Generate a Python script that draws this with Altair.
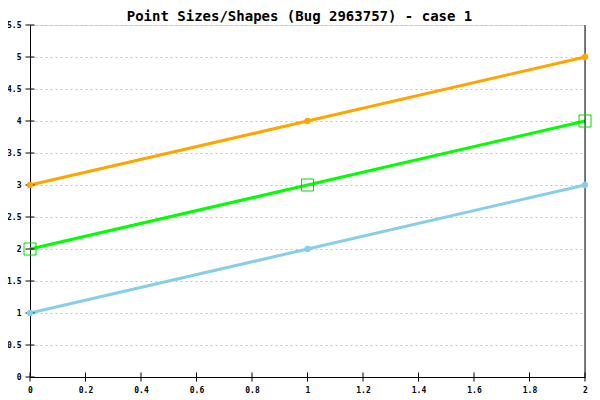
import altair as alt
import pandas as pd

x_vals = [0, 1, 2]
blue_vals = [1, 2, 3]
green_vals = [2, 3, 4]
orange_vals = [3, 4, 5]
y_ticks = [0, 0.5, 1, 1.5, 2, 2.5, 3, 3.5, 4, 4.5, 5, 5.5]
x_ticks = [0, 0.2, 0.4, 0.6, 0.8, 1, 1.2, 1.4, 1.6, 1.8, 2]
title = "Point Sizes/Shapes (Bug 2963757) - case 1"

FONT = "DejaVu Sans Mono"

def series(vals, name):
    return pd.DataFrame({"x": x_vals, "y": vals, "s": name})

blue = series(blue_vals, "blue")
green = series(green_vals, "green")
orange = series(orange_vals, "orange")

xs = alt.Scale(domain=[0, 2], nice=False, zero=False)
ys = alt.Scale(domain=[0, 5.5], nice=False, zero=False)

x_axis = alt.Axis(values=x_ticks, grid=False, ticks=False,
        domainColor="black", domainWidth=1, labelFont=FONT, labelFontSize=8,
        labelFontWeight="bold", labelColor="black", labelPadding=9, title=None,
        labelFlush=False, labelOverlap=False, format="~g")
y_axis = alt.Axis(values=y_ticks, grid=True, gridDash=[2, 3],
        gridColor="#c0c0c0", gridWidth=1, ticks=False, domainColor="black",
        domainWidth=1, labelFont=FONT, labelFontSize=8, labelFontWeight="bold",
        labelColor="black", labelPadding=9, title=None, labelOverlap=False, format="~g")
X = alt.X("x:Q", scale=xs, axis=x_axis)
Y = alt.Y("y:Q", scale=ys, axis=y_axis)

blue_line = alt.Chart(blue).mark_line(color="#87CEEB", strokeWidth=3).encode(x=X, y=Y)
blue_pts = alt.Chart(blue).mark_point(filled=True, shape="circle", size=40, color="#87CEEB", opacity=1).encode(x=X, y=Y)
green_line = alt.Chart(green).mark_line(color="#00FF00", strokeWidth=3).encode(x=X, y=Y)
green_pts = alt.Chart(green).mark_point(filled=False, shape="square", size=144, color="#00DD00", strokeWidth=1, opacity=1).encode(x=X, y=Y)
orange_line = alt.Chart(orange).mark_line(color="#FFA500", strokeWidth=3).encode(x=X, y=Y)
orange_pts = alt.Chart(orange).mark_point(filled=True, shape="circle", size=40, color="#FFA500", opacity=1).encode(x=X, y=Y)

ytick_df = pd.DataFrame({"y": y_ticks})
xtick_df = pd.DataFrame({"x": x_ticks})
ytick_marks = alt.Chart(ytick_df).mark_tick(orient="horizontal", size=9, thickness=1, color="black", opacity=1).encode(
    y=Y, x=alt.datum(0, type="quantitative", scale=xs, axis=x_axis))
xtick_marks = alt.Chart(xtick_df).mark_tick(orient="vertical", size=9, thickness=1, color="black", opacity=1).encode(
    x=X, y=alt.datum(0, type="quantitative", scale=ys, axis=y_axis))
right_rule = alt.Chart(pd.DataFrame({"x": [2]})).mark_rule(color="black", strokeWidth=1).encode(x=X)

chart = alt.layer(
    blue_line, green_line, orange_line, right_rule, ytick_marks, xtick_marks,
    blue_pts, green_pts, orange_pts,
).properties(
    width=555, height=352,
    title=alt.TitleParams(title, font=FONT, fontSize=14, fontWeight="bold", color="black",
                          anchor="middle", offset=-3, dx=-8),
    autosize=alt.AutoSizeParams(type="none"),
    padding={"left": 22, "top": 17, "right": 7, "bottom": 22},
).configure_view(stroke=None).configure(background="white")

chart.save("out.html", embed_options={"renderer": "svg", "actions": False})
